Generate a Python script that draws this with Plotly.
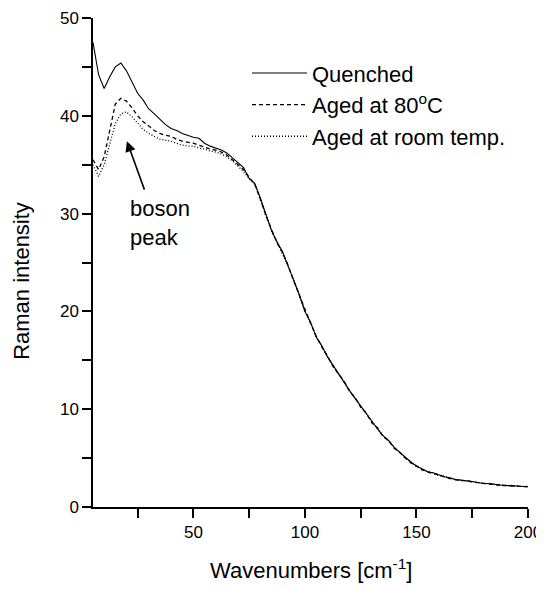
import plotly.graph_objects as go

wavenumber = [5.0, 7.5, 10.0, 12.5, 15.0, 17.5, 20.0, 22.5, 25.0, 27.5, 30.0, 32.5, 35.0, 37.5, 40.0,
              42.5, 45.0, 47.5, 50.0, 52.5, 55.0, 57.5, 60.0, 62.5, 65.0, 67.5, 70.0, 72.5, 75.0, 77.5,
              80.0, 82.5, 85.0, 87.5, 90.0, 92.5, 95.0, 97.5, 100.0, 102.5, 105.0, 107.5, 110.0, 112.5,
              115.0, 117.5, 120.0, 122.5, 125.0, 127.5, 130.0, 132.5, 135.0, 137.5, 140.0, 142.5, 145.0,
              147.5, 150.0, 152.5, 155.0, 157.5, 160.0, 162.5, 165.0, 167.5, 170.0, 172.5, 175.0, 177.5,
              180.0, 182.5, 185.0, 187.5, 190.0, 192.5, 195.0, 197.5, 200.0]

quenched = [47.5, 44.2, 42.8, 44.0, 45.0, 45.4, 44.6, 43.5, 42.3, 41.6, 40.7, 40.2, 39.6, 39.1, 38.7,
            38.5, 38.2, 38.0, 37.8, 37.7, 37.2, 36.9, 36.7, 36.5, 36.2, 35.7, 35.1, 34.7, 33.6, 33.1,
            31.6, 29.9, 28.3, 27.1, 26.1, 24.6, 23.2, 21.7, 20.0, 18.9, 17.4, 16.5, 15.4, 14.5,
            13.7, 12.8, 11.9, 11.1, 10.3, 9.5, 8.7, 8.0, 7.3, 6.8, 6.1, 5.6, 5.0,
            4.6, 4.2, 3.9, 3.6, 3.5, 3.3, 3.1, 3.0, 2.8, 2.75, 2.7, 2.6, 2.5,
            2.4, 2.4, 2.3, 2.25, 2.2, 2.2, 2.15, 2.1, 2.1]

aged_80 = [35.5, 34.5, 35.8, 38.5, 41.2, 41.8, 41.5, 40.8, 40.0, 39.4, 38.9, 38.5, 38.2, 38.0, 37.9,
           37.6, 37.4, 37.3, 37.2, 37.0, 36.8, 36.6, 36.5, 36.3, 36.0, 35.5, 35.0, 34.5, 33.7, 33.0,
           31.5, 29.8, 28.4, 27.0, 26.0, 24.7, 23.1, 21.6, 20.1, 18.8, 17.5, 16.4, 15.5, 14.4,
           13.6, 12.9, 11.8, 11.2, 10.2, 9.6, 8.6, 8.1, 7.2, 6.8, 6.0, 5.6, 5.0,
           4.5, 4.2, 3.8, 3.6, 3.4, 3.3, 3.1, 2.9, 2.8, 2.7, 2.7, 2.55, 2.5,
           2.4, 2.35, 2.3, 2.2, 2.2, 2.15, 2.1, 2.1, 2.05]

aged_room = [35.0, 33.8, 35.0, 37.0, 39.2, 40.2, 40.4, 39.9, 39.2, 38.6, 38.2, 37.9, 37.6, 37.5, 37.4,
             37.2, 37.0, 36.9, 36.9, 36.7, 36.6, 36.4, 36.3, 36.1, 35.8, 35.4, 34.9, 34.3, 33.6, 33.0,
             31.4, 29.9, 28.2, 27.1, 25.9, 24.6, 23.2, 21.7, 20.0, 18.9, 17.4, 16.5, 15.4, 14.5,
             13.7, 12.8, 11.9, 11.1, 10.3, 9.5, 8.7, 8.0, 7.3, 6.7, 6.1, 5.5, 5.0,
             4.6, 4.1, 3.9, 3.6, 3.5, 3.2, 3.1, 3.0, 2.8, 2.75, 2.65, 2.6, 2.5,
             2.4, 2.4, 2.3, 2.25, 2.2, 2.2, 2.1, 2.1, 2.1]

series_names = ["Quenched", "Aged at 80<sup>o</sup>C", "Aged at room temp."]
x_ticks = [50, 100, 150, 200]
y_ticks = [0, 10, 20, 30, 40, 50]

FONT = "Liberation Sans, Arial, sans-serif"

fig = go.Figure()
styles = ["solid", "4px,3px", "1px,2px"]
widths = [1.1, 1.3, 1.3]
for name, vals, dash, w in zip(series_names, [quenched, aged_80, aged_room], styles, widths):
    fig.add_trace(go.Scatter(
        x=wavenumber, y=vals, mode="lines", name=name,
        line=dict(color="black", width=w, dash=dash),
    ))

fig.add_annotation(
    x=20.2, y=37.4, ax=28.3, ay=32.3, xref="x", yref="y", axref="x", ayref="y",
    text="", showarrow=True, arrowhead=2, arrowsize=1.3, arrowwidth=1.6, arrowcolor="black",
)
fig.add_annotation(
    x=20.6, y=29.0, xref="x", yref="y", text="boson<br>peak", showarrow=False,
    xanchor="left", yanchor="middle", align="left",
    font=dict(family=FONT, size=22, color="black"),
)
fig.add_annotation(
    x=0.5, y=-0.127, xref="paper", yref="paper", text="Wavenumbers [cm<sup>-1</sup>]",
    showarrow=False, xanchor="center", yanchor="middle",
    font=dict(family=FONT, size=22, color="black"),
)
fig.add_annotation(
    x=-0.166, y=0.462, xref="paper", yref="paper", text="Raman intensity",
    showarrow=False, textangle=-90, xanchor="center", yanchor="middle",
    font=dict(family=FONT, size=22, color="black"),
)

axis_common = dict(
    showgrid=False, zeroline=False, showline=True, linecolor="black", linewidth=1.5,
    ticks="outside", ticklen=9, tickwidth=1.5, tickcolor="black", automargin=False,
    tickfont=dict(family=FONT, size=17, color="black"),
)
fig.update_xaxes(range=[5, 200], tickvals=x_ticks,
                 minor=dict(ticks="outside", ticklen=9, tickwidth=1.5, tickcolor="black", dtick=25, tick0=0),
                 **axis_common)
fig.update_yaxes(range=[0, 50], tickvals=y_ticks,
                 minor=dict(ticks="outside", ticklen=9, tickwidth=1.5, tickcolor="black", dtick=5, tick0=0),
                 **axis_common)

fig.update_layout(
    width=536, height=581,
    margin=dict(l=85, r=16, t=10, b=82, autoexpand=False),
    plot_bgcolor="white", paper_bgcolor="white",
    font=dict(family=FONT, size=22, color="black"),
    legend=dict(x=0.354, y=0.93, xanchor="left", yanchor="top", itemwidth=55,
                bgcolor="rgba(0,0,0,0)", font=dict(family=FONT, size=22, color="black"),
                tracegroupgap=0),
    showlegend=True,
)

fig.write_html("out.html")
